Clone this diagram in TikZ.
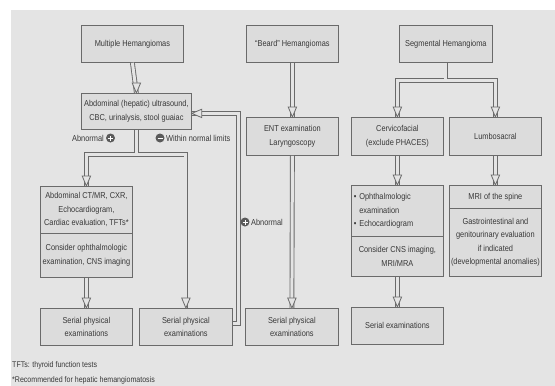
\documentclass[tikz,border=0pt]{standalone}
\usepackage{fontspec}
\setmainfont{Liberation Sans}[FakeStretch=0.86]
\definecolor{bgc}{HTML}{E4E4E4}
\definecolor{boxc}{HTML}{DCDCDC}
\definecolor{edgec}{HTML}{6A6A6A}
\definecolor{txtc}{HTML}{383838}
\tikzset{
  box/.style={draw=edgec, fill=boxc, line width=0.8pt, inner sep=1pt, anchor=north west,
    align=center, text=txtc, font=\fontsize{8.6}{13.5}\selectfont},
  outerc/.style={draw=edgec, line width=4.8pt},
  innerc/.style={draw=bgc, line width=3pt},
  tipst/.style={draw=edgec, fill=bgc, line width=0.8pt, line join=miter},
  lbl/.style={text=txtc, font=\fontsize{8.6}{10}\selectfont, inner sep=0pt},
  sgn/.style={circle, fill=edgec!85!black, minimum size=9pt, inner sep=0pt},
}
\newcommand\dtip[1]{\filldraw[tipst] (#1) -- ++(-4.2,-10) -- ++(8.4,0) -- cycle;}
\newcommand\ltip[1]{\filldraw[tipst] (#1) -- ++(10,4.2) -- ++(0,-8.4) -- cycle;}
\newcommand\myconns{%
  \path[conn] (mh.south) -- (us.north);
  \path[conn] (us.south) -- ++(0,24.5) -| (ct1.north);
  \path[conn] (us.south) -- ++(0,24.5) -| (sp2.north);
  \path[conn] ([yshift=3.5pt]sp2.east) -- ++(6,0) |- ([yshift=-2pt]us.east);
  \path[conn] (ct2.south) -- (sp1.north);
  \path[conn] (beard.south) -- (ent.north);
  \path[conn] (ent.south) -- (sp3.north);
  \path[conn] (seg.south) -- ++(0,18) -| (cerv.north);
  \path[conn] (seg.south) -- ++(0,18) -| (lumb.north);
  \path[conn] (cerv.south) -- (oph1.north);
  \path[conn] (lumb.south) -- (mri1.north);
  \path[conn] (oph2.south) -- (se.north);
}
\begin{document}
\begin{tikzpicture}[x=1pt,y=-1pt]
\useasboundingbox (0,0) rectangle (555,386);
\fill[white] (0,0) rectangle (555,386);
\fill[bgc] (11,10) rectangle (555,386);

% boxes
\node[box, minimum width=102pt, minimum height=37pt] (mh) at (81,25) {Multiple Hemangiomas};
\node[box, minimum width=110pt, minimum height=36pt] (us) at (81,93) {Abdominal (hepatic) ultrasound,\\CBC, urinalysis, stool guaiac};
\node[box, minimum width=92pt, minimum height=47pt] (ct1) at (40,186) {Abdominal CT/MR, CXR,\\Echocardiogram,\\Cardiac evaluation, TFTs*};
\node[box, minimum width=92pt, minimum height=44pt] (ct2) at (40,233) {Consider ophthalmologic\\examination, CNS imaging};
\node[box, minimum width=92pt, minimum height=37pt] (sp1) at (40,308) {Serial physical\\examinations};
\node[box, minimum width=93pt, minimum height=37pt] (sp2) at (139,308) {Serial physical\\examinations};
\node[box, minimum width=92pt, minimum height=37pt] (beard) at (246,25) {``Beard'' Hemangiomas};
\node[box, minimum width=92pt, minimum height=38pt] (ent) at (246,117) {ENT examination\\Laryngoscopy};
\node[box, minimum width=93pt, minimum height=37pt] (sp3) at (245,308) {Serial physical\\examinations};
\node[box, minimum width=93pt, minimum height=37pt] (seg) at (399,25) {Segmental Hemangioma};
\node[box, minimum width=92pt, minimum height=38pt] (cerv) at (351,117) {Cervicofacial\\(exclude PHACES)};
\node[box, minimum width=92pt, minimum height=38pt] (lumb) at (449,117) {Lumbosacral};
\node[box, minimum width=92pt, minimum height=51pt, align=left, text width=87pt] (oph1) at (351,185) {\textbullet\ Ophthalmologic\\\phantom{\textbullet\ }examination\\\textbullet\ Echocardiogram};
\node[box, minimum width=92pt, minimum height=40pt] (oph2) at (351,236) {Consider CNS imaging,\\MRI/MRA};
\node[box, minimum width=92pt, minimum height=37pt] (se) at (351,307) {Serial examinations};
\node[box, minimum width=92pt, minimum height=23pt] (mri1) at (449,185) {MRI of the spine};
\node[box, minimum width=92pt, minimum height=68pt] (mri2) at (449,208) {Gastrointestinal and\\genitourinary evaluation\\if indicated\\(developmental anomalies)};

% connectors: outer then inner stroke
\begin{scope}[conn/.style={outerc}] \myconns \end{scope}
\begin{scope}[conn/.style={innerc}] \myconns \end{scope}

% arrow tips
\dtip{us.north}
\dtip{ct1.north}
\dtip{sp2.north}
\dtip{sp1.north}
\dtip{ent.north}
\dtip{sp3.north}
\dtip{cerv.north}
\dtip{lumb.north}
\dtip{oph1.north}
\dtip{mri1.north}
\dtip{se.north}
\ltip{[yshift=-2pt]us.east}

% labels
\node[lbl, anchor=east] (abn1) at (104,138) {Abnormal};
\node[sgn] (pc1) at (110.5,138) {};
\draw[white, line width=1pt] ([xshift=-2.5pt]pc1.center) -- ([xshift=2.5pt]pc1.center) ([yshift=-2.5pt]pc1.center) -- ([yshift=2.5pt]pc1.center);
\node[sgn] (mc1) at (160,138) {};
\draw[white, line width=1pt] ([xshift=-2.5pt]mc1.center) -- ([xshift=2.5pt]mc1.center);
\node[lbl, anchor=west] (wnl) at (166,138) {Within normal limits};
\node[sgn] (pc2) at (245,222) {};
\draw[white, line width=1pt] ([xshift=-2.5pt]pc2.center) -- ([xshift=2.5pt]pc2.center) ([yshift=-2.5pt]pc2.center) -- ([yshift=2.5pt]pc2.center);
\node[lbl, anchor=west] (abn2) at (251,222) {Abnormal};

% footnotes
\node[lbl, anchor=west, font=\fontsize{8.2}{9}\selectfont] (fn1) at (12,365) {TFTs: thyroid function tests};
\node[lbl, anchor=west, font=\fontsize{8.2}{9}\selectfont] (fn2) at (12,380) {*Recommended for hepatic hemangiomatosis};
\end{tikzpicture}
\end{document}
